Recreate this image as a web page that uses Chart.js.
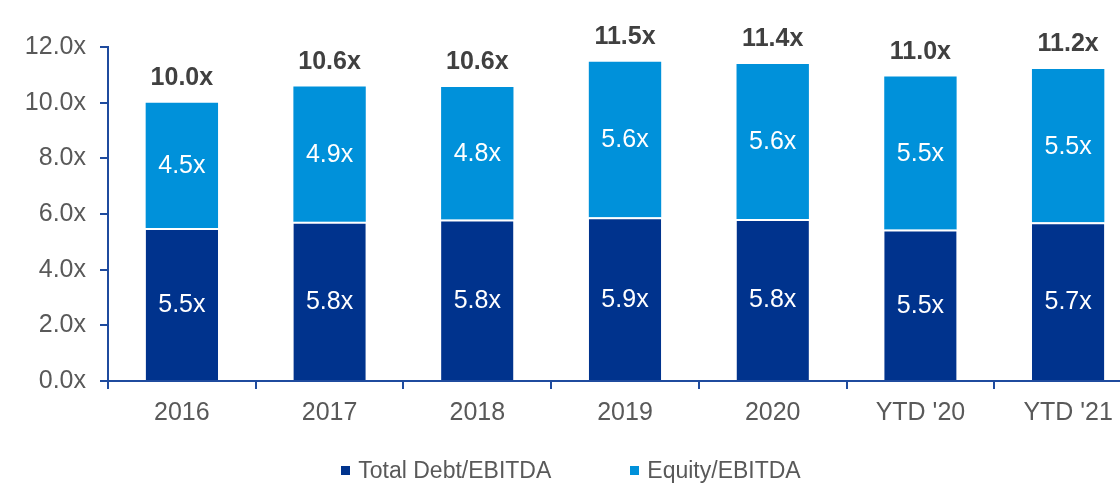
<!DOCTYPE html>
<html>
<head>
<meta charset="utf-8">
<script src="https://cdn.jsdelivr.net/npm/chart.js@4.4.1/dist/chart.umd.min.js"></script>
<style>
  html, body { margin: 0; padding: 0; background: #fff; overflow: hidden; }
  #wrap { position: relative; width: 1142px; height: 489px; }
  #legend {
    position: absolute; left: 0; top: 457px; width: 1142px;
    display: flex; justify-content: center; gap: 79px;
    font-family: "Liberation Sans", Arial, sans-serif; font-size: 23px; color: #595959;
  }
  #legend span.item { display: flex; align-items: center; }
  #legend span.box { display: inline-block; width: 9px; height: 9px; margin-right: 8px; }
</style>
</head>
<body>
<div id="wrap">
  <canvas id="chart" width="1142" height="489"></canvas>
  <div id="legend"></div>
</div>
<script>
// Data
const categories = ['2016', '2017', '2018', '2019', '2020', "YTD '20", "YTD '21"];
const debtValues = [5.5, 5.72, 5.8, 5.88, 5.82, 5.44, 5.7];
const equityValues = [4.5, 4.86, 4.76, 5.59, 5.57, 5.5, 5.51];
const debtLabels = ['5.5x', '5.8x', '5.8x', '5.9x', '5.8x', '5.5x', '5.7x'];
const equityLabels = ['4.5x', '4.9x', '4.8x', '5.6x', '5.6x', '5.5x', '5.5x'];
const totalLabels = ['10.0x', '10.6x', '10.6x', '11.5x', '11.4x', '11.0x', '11.2x'];
const yTicks = [0, 2, 4, 6, 8, 10, 12];

const NAVY = '#00338D';
const LIGHT = '#0091DA';
const AXIS = '#1F4B9E';
const FONT = '"Liberation Sans", Arial, sans-serif';

// labels inside segments + totals on top
const barLabels = {
  id: 'barLabels',
  afterDatasetsDraw(chart) {
    const ctx = chart.ctx;
    ctx.save();
    ctx.textAlign = 'center';
    const sets = [debtLabels, equityLabels];
    sets.forEach((labels, di) => {
      const meta = chart.getDatasetMeta(di);
      meta.data.forEach((bar, i) => {
        ctx.fillStyle = '#fff';
        ctx.font = '25px ' + FONT;
        ctx.textBaseline = 'middle';
        ctx.fillText(labels[i], bar.x, (bar.y + bar.base) / 2 + 1);
      });
    });
    const top = chart.getDatasetMeta(1);
    top.data.forEach((bar, i) => {
      ctx.fillStyle = '#404040';
      ctx.font = 'bold 25px ' + FONT;
      ctx.textBaseline = 'alphabetic';
      ctx.fillText(totalLabels[i], bar.x, bar.y - 18);
    });
    ctx.restore();
  }
};

new Chart(document.getElementById('chart'), {
  type: 'bar',
  data: {
    labels: categories,
    datasets: [
      {
        label: 'Total Debt/EBITDA',
        data: debtValues,
        backgroundColor: NAVY,
        borderColor: '#ffffff',
        borderWidth: { top: 2, left: 0, right: 0, bottom: 0 },
        borderSkipped: false,
        categoryPercentage: 0.49,
        barPercentage: 1
      },
      {
        label: 'Equity/EBITDA',
        data: equityValues,
        backgroundColor: LIGHT,
        borderWidth: 0,
        categoryPercentage: 0.49,
        barPercentage: 1
      }
    ]
  },
  options: {
    responsive: false,
    animation: false,
    layout: { padding: { top: 47, right: 0, bottom: 52, left: 0 } },
    plugins: {
      legend: { display: false },
      tooltip: { enabled: false }
    },
    scales: {
      x: {
        stacked: true,
        grid: { drawOnChartArea: false, tickLength: 8, color: AXIS, lineWidth: 2, offset: true },
        border: { color: AXIS, width: 2 },
        ticks: { color: '#595959', font: { family: FONT, size: 25 }, padding: 9 }
      },
      y: {
        stacked: true,
        min: 0,
        max: 12,
        afterFit(scale) { scale.width = 108; },
        afterBuildTicks(scale) { scale.ticks = yTicks.map(v => ({ value: v })); },
        grid: { drawOnChartArea: false, tickLength: 8, color: AXIS, lineWidth: 2 },
        border: { color: AXIS, width: 2 },
        ticks: {
          color: '#595959',
          font: { family: FONT, size: 25 },
          padding: 14,
          callback: v => v.toFixed(1) + 'x'
        }
      }
    }
  },
  plugins: [barLabels]
});

// legend
const legendEl = document.getElementById('legend');
[['Total Debt/EBITDA', NAVY], ['Equity/EBITDA', LIGHT]].forEach(([name, color]) => {
  const item = document.createElement('span');
  item.className = 'item';
  item.innerHTML = '<span class="box" style="background:' + color + '"></span>' + name;
  legendEl.appendChild(item);
});
</script>
</body>
</html>
